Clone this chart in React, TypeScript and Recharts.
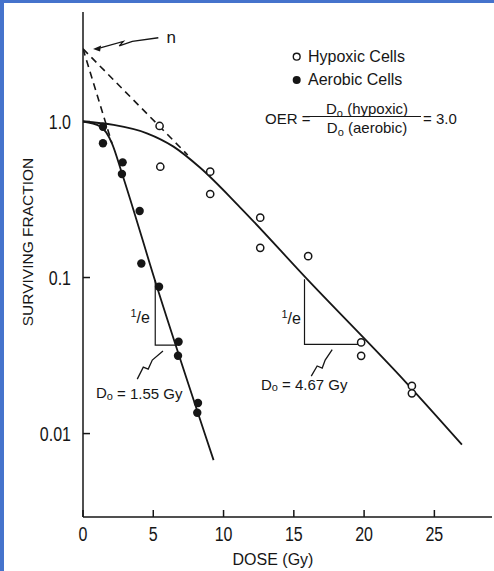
import { ComposedChart, Line, Scatter, XAxis, YAxis, ReferenceDot } from 'recharts';

const FONT = "'Liberation Sans', Arial, Helvetica, sans-serif";
const INK = '#161616';
const BORDER_BLUE = '#4573cc';

// axes
const doseTicks = [0, 5, 10, 15, 20, 25];
const survivalTicks = [0.01, 0.1, 1];
const doseDomain = [0, 29.1];
const survivalDomain = [0.00292, 5.03];

// measured survival, hypoxic cells (open circles)
const hypoxicDose = [5.45, 5.5, 9.05, 9.05, 12.61, 12.61, 16.02, 19.79, 19.79, 23.4, 23.4];
const hypoxicSurvival = [0.936, 0.513, 0.477, 0.343, 0.242, 0.155, 0.137, 0.0384, 0.0315, 0.0202, 0.0181];

// measured survival, aerobic cells (filled circles)
const aerobicDose = [1.42, 1.42, 2.82, 2.77, 4.03, 4.15, 5.41, 6.8, 6.76, 8.18, 8.13];
const aerobicSurvival = [0.926, 0.725, 0.547, 0.461, 0.267, 0.123, 0.0873, 0.0388, 0.0315, 0.0157, 0.0136];

// fitted curves
const hypoxicFitDose = [0, 2.18, 4.55, 6.44, 8.34, 11.19, 15.93, 23.04, 26.96];
const hypoxicFitSurvival = [1.0, 0.95, 0.84, 0.69, 0.505, 0.281, 0.098, 0.021, 0.0085];
const aerobicFitDose = [0, 1.23, 2.06, 2.77, 5.26, 9.29];
const aerobicFitSurvival = [1.0, 0.93, 0.725, 0.466, 0.0873, 0.00676];

// extrapolation of the straight parts back to n
const hypoxicExtrapDose = [0, 7.45];
const hypoxicExtrapSurvival = [2.92, 0.61];
const aerobicExtrapDose = [0, 2.06];
const aerobicExtrapSurvival = [2.92, 0.725];

// 1/e triangles
const aerobicTriDose = [5.14, 5.14, 6.69];
const aerobicTriSurvival = [0.0964, 0.0369, 0.0369];
const hypoxicTriDose = [15.76, 15.76, 19.72];
const hypoxicTriSurvival = [0.0974, 0.0373, 0.0373];

// squiggly pointers
const nArrowDose = [5.36, 3.51, 2.58, 2.87, 1.23];
const nArrowSurvival = [3.44, 3.26, 3.05, 3.26, 2.96];
const aerobicPtrDose = [3.86, 4.29, 4.64, 4.93, 5.69];
const aerobicPtrSurvival = [0.02234, 0.02667, 0.02588, 0.02957, 0.03379];
const hypoxicPtrDose = [16.24, 16.66, 17.02, 17.23, 17.73];
const hypoxicPtrSurvival = [0.02336, 0.0271, 0.0263, 0.02957, 0.03454];

const pts = (xs: number[], ys: number[]) => xs.map((x, i) => ({ x, y: ys[i] }));

const OpenDot = (p: any) => <circle cx={p.cx} cy={p.cy} r={3.6} fill="#fff" stroke={INK} strokeWidth={1.5} />;
const FilledDot = (p: any) => <circle cx={p.cx} cy={p.cy} r={4.2} fill={INK} />;
const ArrowHead = (p: any) => (
  <polygon points={`${p.cx - 4},${p.cy + 0.5} ${p.cx + 4},${p.cy - 3} ${p.cx + 3},${p.cy + 3}`} fill={INK} />
);

// tall, narrow tick digits like the old typeset figure
const DoseTick = (p: any) => (
  <g transform={`translate(${p.x},${p.y})`}>
    <text transform="scale(0.8,1)" textAnchor="middle" dy="0.71em" fontSize={20} fontFamily={FONT} fill={INK}>
      {p.payload.value}
    </text>
  </g>
);
const SurvivalTick = (p: any) => (
  <g transform={`translate(${p.x},${p.y})`}>
    <text transform="scale(0.8,1)" textAnchor="end" dy="0.36em" fontSize={20} fontFamily={FONT} fill={INK}>
      {p.payload.value === 1 ? '1.0' : String(p.payload.value)}
    </text>
  </g>
);

const DoLabel = ({ value }: { value: string }) => (p: any) => (
  <text x={p.cx} y={p.cy} textAnchor="middle" dominantBaseline="central" fontSize={15} fontFamily={FONT} fill={INK}>
    D<tspan fontSize={11} dy={3}>o</tspan>
    <tspan dy={-3}>{` = ${value} Gy`}</tspan>
  </text>
);

const OneOverE = (p: any) => (
  <text x={p.cx} y={p.cy} textAnchor="middle" dominantBaseline="central" fontSize={16} fontFamily={FONT} fill={INK}>
    <tspan fontSize={11} dy={-4}>1</tspan>
    <tspan dy={4}>/e</tspan>
  </text>
);

const NLabel = (p: any) => (
  <text x={p.cx} y={p.cy} textAnchor="middle" dominantBaseline="central" fontSize={17} fontFamily={FONT} fill={INK}>
    n
  </text>
);

const note = (x: number, y: number, size: number, center = false): React.CSSProperties => ({
  position: 'absolute',
  left: x,
  top: y,
  transform: center ? 'translate(-50%, -50%)' : 'translate(0, -50%)',
  fontSize: size,
  fontFamily: FONT,
  color: INK,
  whiteSpace: 'nowrap',
  lineHeight: 1,
});

const sub = <span style={{ fontSize: 11, position: 'relative', top: 3 }}>o</span>;

export default function App() {
  const axisStroke = { stroke: INK, strokeWidth: 1.5 };
  return (
    <div style={{ position: 'absolute', left: 0, top: 0, width: 494, height: 571, background: '#fff', overflow: 'hidden' }}>
      <ComposedChart width={494} height={571} margin={{ top: 12, right: 2, bottom: 0, left: 0 }}>
        <XAxis
          type="number"
          dataKey="x"
          domain={doseDomain}
          ticks={doseTicks}
          allowDataOverflow
          height={54}
          tickSize={-7}
          tickMargin={17}
          axisLine={axisStroke}
          tickLine={axisStroke}
          tick={DoseTick}
        />
        <XAxis
          xAxisId="top"
          orientation="top"
          type="number"
          domain={doseDomain}
          ticks={doseTicks}
          allowDataOverflow
          height={0}
          tickSize={-7}
          axisLine={axisStroke}
          tickLine={axisStroke}
          tick={false}
        />
        <YAxis
          type="number"
          dataKey="y"
          scale="log"
          domain={survivalDomain}
          ticks={survivalTicks}
          allowDataOverflow
          width={83}
          tickSize={-7}
          tickMargin={19}
          axisLine={axisStroke}
          tickLine={axisStroke}
          tick={SurvivalTick}
        />
        <YAxis
          yAxisId="right"
          orientation="right"
          type="number"
          scale="log"
          domain={survivalDomain}
          ticks={survivalTicks}
          allowDataOverflow
          width={0}
          tickSize={-7}
          axisLine={axisStroke}
          tickLine={axisStroke}
          tick={false}
        />

        <Line data={pts(hypoxicExtrapDose, hypoxicExtrapSurvival)} dataKey="y" type="linear" stroke={INK} strokeWidth={1.6} strokeDasharray="7 5" dot={false} activeDot={false} isAnimationActive={false} />
        <Line data={pts(aerobicExtrapDose, aerobicExtrapSurvival)} dataKey="y" type="linear" stroke={INK} strokeWidth={1.6} strokeDasharray="7 5" dot={false} activeDot={false} isAnimationActive={false} />
        <Line data={pts(hypoxicFitDose, hypoxicFitSurvival)} dataKey="y" type="monotone" stroke={INK} strokeWidth={1.8} dot={false} activeDot={false} isAnimationActive={false} />
        <Line data={pts(aerobicFitDose, aerobicFitSurvival)} dataKey="y" type="monotone" stroke={INK} strokeWidth={1.8} dot={false} activeDot={false} isAnimationActive={false} />

        <Line data={pts(aerobicTriDose, aerobicTriSurvival)} dataKey="y" type="linear" stroke={INK} strokeWidth={1.2} dot={false} activeDot={false} isAnimationActive={false} />
        <Line data={pts(hypoxicTriDose, hypoxicTriSurvival)} dataKey="y" type="linear" stroke={INK} strokeWidth={1.2} dot={false} activeDot={false} isAnimationActive={false} />

        <Line data={pts(nArrowDose, nArrowSurvival)} dataKey="y" type="linear" stroke={INK} strokeWidth={1.3} dot={false} activeDot={false} isAnimationActive={false} />
        <Line data={pts(aerobicPtrDose, aerobicPtrSurvival)} dataKey="y" type="linear" stroke={INK} strokeWidth={1.3} dot={false} activeDot={false} isAnimationActive={false} />
        <Line data={pts(hypoxicPtrDose, hypoxicPtrSurvival)} dataKey="y" type="linear" stroke={INK} strokeWidth={1.3} dot={false} activeDot={false} isAnimationActive={false} />
        <Scatter data={pts([1.0], [2.94])} dataKey="y" shape={ArrowHead} isAnimationActive={false} />

        <Scatter data={pts(hypoxicDose, hypoxicSurvival)} dataKey="y" shape={OpenDot} isAnimationActive={false} />
        <Scatter data={pts(aerobicDose, aerobicSurvival)} dataKey="y" shape={FilledDot} isAnimationActive={false} />

        <ReferenceDot x={6.28} y={3.43} r={0} shape={NLabel} />
        <ReferenceDot x={4.07} y={0.0558} r={0} shape={OneOverE} />
        <ReferenceDot x={14.81} y={0.0549} r={0} shape={OneOverE} />
        <ReferenceDot x={4.0} y={0.0183} r={0} shape={DoLabel({ value: '1.55' })} />
        <ReferenceDot x={15.74} y={0.0207} r={0} shape={DoLabel({ value: '4.67' })} />
      </ComposedChart>

      {/* legend */}
      <svg style={{ position: 'absolute', left: 291, top: 51 }} width={12} height={36}>
        <circle cx={5.7} cy={5.7} r={3.4} fill="#fff" stroke={INK} strokeWidth={1.4} />
        <circle cx={5.7} cy={29} r={4} fill={INK} />
      </svg>
      <div style={note(308, 57, 16)}>Hypoxic Cells</div>
      <div style={note(308, 80, 16)}>Aerobic Cells</div>

      {/* OER formula */}
      <div style={note(265, 118, 15)}>OER =</div>
      <div style={note(367, 108, 15, true)}>D{sub} (hypoxic)</div>
      <div style={{ position: 'absolute', left: 305, top: 116, width: 116, height: 1.3, background: INK }} />
      <div style={note(367, 127, 15, true)}>D{sub} (aerobic)</div>
      <div style={note(423, 118, 15)}>= 3.0</div>

      {/* axis titles */}
      <div style={note(273, 560, 16, true)}>DOSE (Gy)</div>
      <div style={{ ...note(27.5, 242, 15.5, true), transform: 'translate(-50%, -50%) rotate(-90deg)' }}>SURVIVING FRACTION</div>

      {/* scan frame */}
      <div style={{ position: 'absolute', left: 0, top: 0, width: 4, height: 571, background: BORDER_BLUE }} />
      <div style={{ position: 'absolute', left: 0, top: 0, width: 494, height: 3, background: BORDER_BLUE }} />
    </div>
  );
}
